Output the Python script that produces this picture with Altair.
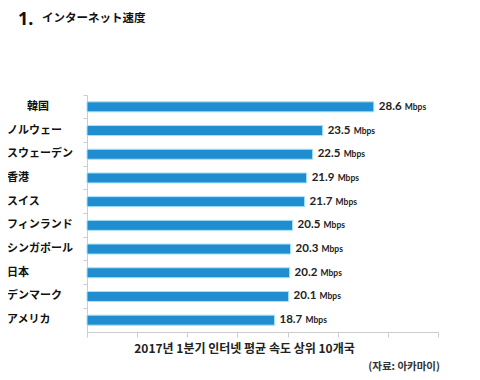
import altair as alt
import pandas as pd

countries = ["韓国", "ノルウェー", "スウェーデン", "香港", "スイス",
             "フィンランド", "シンガポール", "日本", "デンマーク", "アメリカ"]
speeds = [28.6, 23.5, 22.5, 21.9, 21.7, 20.5, 20.3, 20.2, 20.1, 18.7]
unit = "Mbps"
x_ticks = [0, 5, 10, 15, 20, 25, 30, 35]
title_num = "1."
title_text = "インターネット速度"
x_title = "2017년 1분기 인터넷 평균 속도 상위 10개국"
source_text = "(자료: 아카마이)"

df = pd.DataFrame({
    "country": countries,
    "speed": speeds,
    "label": [f"{v:.1f}" for v in speeds],
    "unit": [unit] * len(speeds),
    "first": [i == 0 for i in range(len(speeds))],
})

y_enc = alt.Y(
    "country:N", sort=countries,
    scale=alt.Scale(paddingInner=0, paddingOuter=0),
    axis=alt.Axis(
        title=None, labels=False, tickSize=4, tickColor="#cccccc",
        domainColor="#cccccc", bandPosition=0,
    ),
)
x_enc = alt.X(
    "speed:Q",
    scale=alt.Scale(domain=[0, 35], nice=False),
    axis=alt.Axis(
        values=x_ticks, labels=False, grid=False, tickSize=5,
        tickColor="#cccccc", domainColor="#cccccc",
        title=x_title, titleX=157, titlePadding=6,
        titleFont="Noto Sans CJK KR", titleFontSize=12, titleFontWeight="bold",
        titleColor="#222",
    ),
)

base = alt.Chart(df).encode(y=y_enc, x=x_enc)

bars = base.mark_bar(size=10, color="#1f8dd0", stroke="#a6e3f7", strokeWidth=1)
nums = base.mark_text(align="left", baseline="middle", dx=5, font="Lato",
                      fontSize=11.5, fontWeight="bold", color="#222").encode(text="label:N")
units = base.mark_text(align="left", baseline="middle", dx=31, font="Lato",
                       fontSize=8.5, fontWeight="bold", color="#222").encode(text="unit:N")

lab_style = dict(align="left", baseline="middle", font="Noto Sans CJK JP",
                 fontSize=11, fontWeight="bold", color="#111")
lab_first = base.transform_filter("datum.first").mark_text(**lab_style).encode(
    x=alt.value(-60), text="country:N")
lab_rest = base.transform_filter("!datum.first").mark_text(**lab_style).encode(
    x=alt.value(-80), text="country:N")

t1 = alt.Chart(pd.DataFrame({"t": [title_num]})).mark_text(
    align="left", baseline="alphabetic", font="Noto Sans", fontSize=18,
    fontWeight="bold", color="#111").encode(text="t:N", x=alt.value(-69), y=alt.value(-70))
t2 = alt.Chart(pd.DataFrame({"t": [title_text]})).mark_text(
    align="left", baseline="middle", font="Noto Sans CJK JP", fontSize=11.5,
    fontWeight="bold", color="#111").encode(text="t:N", x=alt.value(-45), y=alt.value(-76))
src = alt.Chart(pd.DataFrame({"t": [source_text]})).mark_text(
    align="right", baseline="middle", font="Noto Sans CJK KR", fontSize=10.5,
    fontWeight="bold", color="#333").encode(text="t:N", x=alt.value(353), y=alt.value(272))

chart = alt.layer(bars, nums, units, lab_first, lab_rest, t1, t2, src).properties(
    width=351, height=237,
    autosize=alt.AutoSizeParams(type="none"),
    padding={"left": 79, "top": 87, "right": 34, "bottom": 40},
    background="white",
).configure_view(stroke=None)

chart.save("out.html", embed_options={"renderer": "svg", "actions": False})
